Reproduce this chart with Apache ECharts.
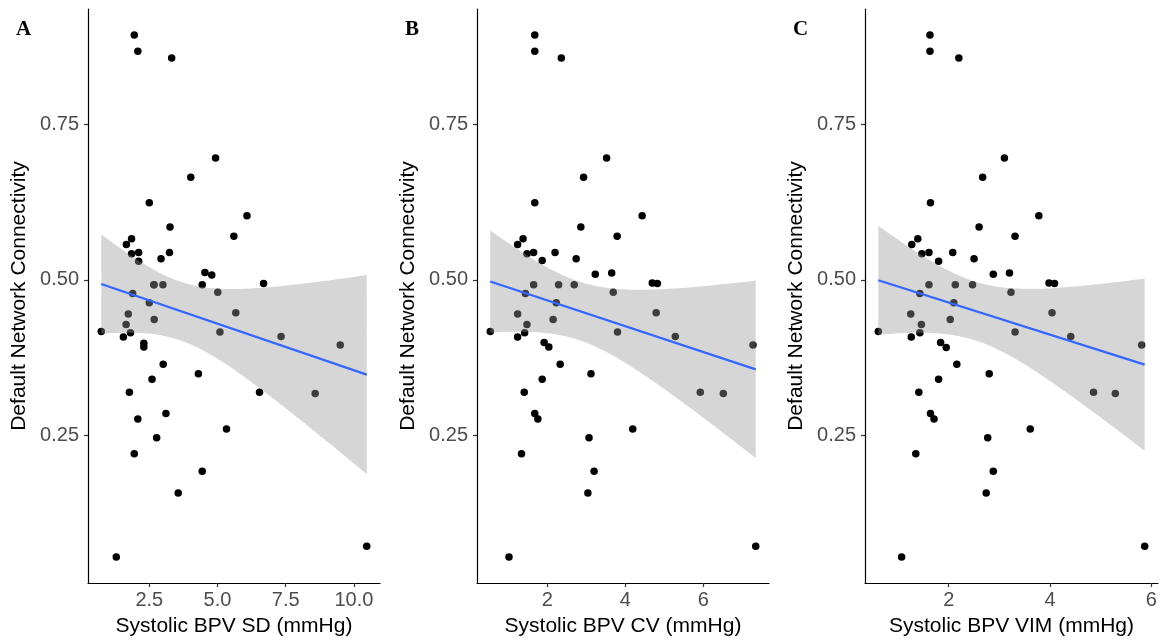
<!DOCTYPE html>
<html>
<head>
<meta charset="utf-8">
<script src="https://cdn.jsdelivr.net/npm/echarts@6/dist/echarts.min.js"></script>
<style>
  html, body { margin: 0; padding: 0; background: #fff; }
  #bpvChart { width: 1168px; height: 644px; }
</style>
</head>
<body>
<div id="bpvChart"></div>
<script>
// systolic BPV measure vs default network connectivity, one [x, y] per subject
const sdPoints = [
  [1.95, 0.894], [2.08, 0.868], [3.32, 0.857], [4.93, 0.696], [4.02, 0.665], [2.50, 0.624],
  [6.08, 0.603], [3.26, 0.585], [5.60, 0.570], [1.85, 0.566], [1.66, 0.557], [1.85, 0.542],
  [2.11, 0.544], [2.11, 0.530], [3.24, 0.544], [2.93, 0.534], [4.54, 0.512], [4.79, 0.508],
  [4.44, 0.492], [6.69, 0.494], [2.67, 0.492], [3.00, 0.492], [2.67, 0.492], [5.01, 0.480],
  [1.89, 0.478], [2.50, 0.463], [1.73, 0.445], [5.67, 0.447], [2.68, 0.436], [1.65, 0.428],
  [0.74, 0.417], [1.81, 0.415], [1.55, 0.408], [5.09, 0.416], [7.33, 0.409], [9.50, 0.395],
  [2.30, 0.398], [2.30, 0.392], [3.01, 0.364], [4.30, 0.349], [2.60, 0.340], [1.77, 0.319],
  [6.54, 0.319], [8.58, 0.317], [3.11, 0.285], [2.08, 0.276], [5.33, 0.260], [2.77, 0.246],
  [1.95, 0.220], [4.44, 0.192], [3.56, 0.157], [1.29, 0.054], [10.47, 0.071]
]
const cvPoints = [
  [1.68, 0.894], [1.68, 0.868], [2.36, 0.857], [3.52, 0.696], [2.93, 0.665], [1.68, 0.624],
  [4.43, 0.603], [2.86, 0.585], [3.79, 0.570], [1.38, 0.566], [1.24, 0.557], [1.48, 0.542],
  [1.65, 0.544], [1.87, 0.531], [2.20, 0.544], [2.74, 0.534], [3.65, 0.511], [3.23, 0.509],
  [4.69, 0.495], [4.82, 0.494], [1.65, 0.492], [2.29, 0.492], [2.69, 0.492], [3.69, 0.480],
  [1.44, 0.478], [2.23, 0.463], [1.24, 0.445], [4.79, 0.447], [2.15, 0.436], [1.48, 0.428],
  [0.54, 0.417], [1.42, 0.415], [1.24, 0.408], [3.80, 0.416], [5.28, 0.409], [7.27, 0.395],
  [1.92, 0.399], [2.04, 0.392], [2.33, 0.364], [3.12, 0.349], [1.87, 0.340], [1.41, 0.319],
  [5.92, 0.319], [6.51, 0.317], [1.68, 0.285], [1.76, 0.276], [4.19, 0.260], [3.07, 0.246],
  [1.34, 0.220], [3.20, 0.192], [3.04, 0.157], [1.02, 0.054], [7.34, 0.071]
]
const vimPoints = [
  [1.63, 0.894], [1.63, 0.868], [2.20, 0.857], [3.10, 0.696], [2.67, 0.665], [1.64, 0.624],
  [3.78, 0.603], [2.60, 0.585], [3.31, 0.570], [1.39, 0.566], [1.27, 0.557], [1.47, 0.542],
  [1.61, 0.544], [1.80, 0.530], [2.08, 0.544], [2.50, 0.534], [3.20, 0.511], [2.88, 0.509],
  [3.98, 0.495], [4.09, 0.494], [1.61, 0.492], [2.13, 0.492], [2.47, 0.492], [3.23, 0.480],
  [1.43, 0.478], [2.10, 0.463], [1.25, 0.445], [4.04, 0.447], [2.03, 0.436], [1.46, 0.428],
  [0.61, 0.417], [1.43, 0.415], [1.26, 0.408], [3.31, 0.416], [4.41, 0.409], [5.81, 0.395],
  [1.84, 0.399], [1.95, 0.391], [2.16, 0.364], [2.80, 0.349], [1.80, 0.340], [1.41, 0.319],
  [4.86, 0.319], [5.29, 0.317], [1.64, 0.285], [1.71, 0.276], [3.61, 0.260], [2.77, 0.246],
  [1.35, 0.220], [2.88, 0.192], [2.74, 0.157], [1.07, 0.054], [5.87, 0.071]
]

const panelLetters = ['A', 'B', 'C']
const xTitles = ['Systolic BPV SD (mmHg)', 'Systolic BPV CV (mmHg)', 'Systolic BPV VIM (mmHg)']
const xTicks = [[2.5, 5, 7.5, 10], [2, 4, 6], [2, 4, 6]]
const xDigits = [1, 0, 0]
const yTicks = [0.25, 0.5, 0.75]
const yTitle = 'Default Network Connectivity'

const panels = [sdPoints, cvPoints, vimPoints]
const FONT = '"Liberation Sans", Arial, sans-serif'

// lm fit + 95% confidence band, like geom_smooth(method = "lm")
function fitLm (pts) {
  const n = pts.length
  const mx = pts.reduce((s, p) => s + p[0], 0) / n
  const my = pts.reduce((s, p) => s + p[1], 0) / n
  let sxx = 0, sxy = 0
  pts.forEach(p => { sxx += (p[0] - mx) ** 2; sxy += (p[0] - mx) * (p[1] - my) })
  const b = sxy / sxx
  const a = my - b * mx
  let sse = 0
  pts.forEach(p => { sse += (p[1] - a - b * p[0]) ** 2 })
  const s = Math.sqrt(sse / (n - 2))
  const t = 2.0076 // qt(0.975, 51)
  const xs = pts.map(p => p[0])
  const lo = Math.min(...xs), hi = Math.max(...xs)
  const band = []
  for (let i = 0; i <= 80; i++) {
    const x = lo + (hi - lo) * i / 80
    const yh = a + b * x
    const se = s * Math.sqrt(1 / n + (x - mx) ** 2 / sxx)
    band.push([x, yh - t * se, yh + t * se])
  }
  return { line: [[lo, a + b * lo], [hi, a + b * hi]], band }
}

function padded (vals) {
  const mn = Math.min(...vals), mx = Math.max(...vals)
  const pad = (mx - mn) * 0.05
  return [mn - pad, mx + pad]
}

const allY = [].concat(...panels.map(p => p.map(d => d[1])))
const yRange = padded(allY)

const grids = [
  { left: 88, top: 9, width: 292, height: 574 },
  { left: 477, top: 9, width: 292, height: 574 },
  { left: 865, top: 9, width: 293, height: 574 }
]

const xAxes = [], yAxes = [], series = [], titles = []
panels.forEach((pts, i) => {
  const xr = padded(pts.map(p => p[0]))
  xAxes.push({
    gridIndex: i,
    type: 'value',
    min: xr[0],
    max: xr[1],
    name: xTitles[i],
    nameLocation: 'middle',
    nameGap: 33,
    nameTextStyle: { color: '#000', fontSize: 21, fontFamily: FONT },
    axisLine: { onZero: false, lineStyle: { color: '#000', width: 1.2 } },
    axisTick: { customValues: xTicks[i], length: 4, lineStyle: { color: '#333', width: 1.2 } },
    axisLabel: {
      customValues: xTicks[i],
      formatter: v => v.toFixed(xDigits[i]),
      color: '#4d4d4d', fontSize: 20, fontFamily: FONT, margin: 7
    },
    splitLine: { show: false }
  })
  yAxes.push({
    gridIndex: i,
    type: 'value',
    min: yRange[0],
    max: yRange[1],
    name: yTitle,
    nameLocation: 'middle',
    nameRotate: 90,
    nameGap: 58,
    nameTextStyle: { color: '#000', fontSize: 21, fontFamily: FONT },
    axisLine: { onZero: false, lineStyle: { color: '#000', width: 1.2 } },
    axisTick: { customValues: yTicks, length: 4, lineStyle: { color: '#333', width: 1.2 } },
    axisLabel: {
      customValues: yTicks,
      formatter: v => v.toFixed(2),
      color: '#4d4d4d', fontSize: 20, fontFamily: FONT, margin: 9
    },
    splitLine: { show: false }
  })

  const fit = fitLm(pts)
  series.push({
    type: 'scatter',
    xAxisIndex: i,
    yAxisIndex: i,
    symbolSize: 7.5,
    itemStyle: { color: '#000', opacity: 1 },
    z: 2,
    data: pts
  })
  // grey ribbon drawn over the points (alpha), as ggplot does
  series.push({
    type: 'custom',
    xAxisIndex: i,
    yAxisIndex: i,
    z: 3,
    silent: true,
    data: [0],
    renderItem: function (params, api) {
      const upper = fit.band.map(d => api.coord([d[0], d[2]]))
      const lower = fit.band.map(d => api.coord([d[0], d[1]])).reverse()
      return {
        type: 'polygon',
        shape: { points: upper.concat(lower) },
        style: { fill: 'rgba(153,153,153,0.4)' }
      }
    }
  })
  series.push({
    type: 'line',
    xAxisIndex: i,
    yAxisIndex: i,
    symbol: 'none',
    z: 4,
    lineStyle: { color: '#3366FF', width: 2.2 },
    data: fit.line
  })
  titles.push({
    text: panelLetters[i],
    left: grids[i].left - 77,
    top: 14,
    textStyle: { fontFamily: '"Liberation Serif", "Times New Roman", serif', fontWeight: 'bold', fontSize: 21, color: '#000' }
  })
})

const chartBox = echarts.init(document.getElementById('bpvChart'))
chartBox.setOption({
  animation: false,
  backgroundColor: '#fff',
  title: titles,
  grid: grids,
  xAxis: xAxes,
  yAxis: yAxes,
  series: series
})
window.addEventListener('resize', function () {
  chartBox.resize()
})
</script>
</body>
</html>
